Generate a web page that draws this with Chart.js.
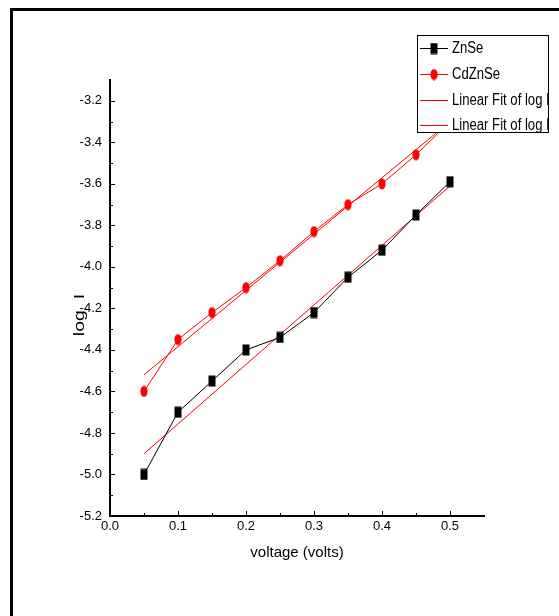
<!DOCTYPE html>
<html>
<head>
<meta charset="utf-8">
<script src="https://cdn.jsdelivr.net/npm/chart.js@4"></script>
<style>
    html, body { margin: 0; padding: 0; background: #fff; overflow: hidden; }
    #wrap { position: relative; width: 559px; height: 616px; }
    #wrap canvas { position: absolute; left: 0; top: 0; }
    #frame { position: absolute; left: 10px; top: 8px; width: 700px; height: 800px; border: 3px solid #000; box-sizing: border-box; }
</style>
</head>
<body>
<div id="wrap">
    <canvas id="ivChart" width="559" height="616"></canvas>
    <div id="frame"></div>
</div>
<script>
// data
const voltage = [0.05, 0.10, 0.15, 0.20, 0.25, 0.30, 0.35, 0.40, 0.45, 0.50];
const znse    = [-5.00, -4.70, -4.55, -4.40, -4.34, -4.22, -4.05, -3.92, -3.75, -3.59];
const cdznse  = [-4.60, -4.35, -4.22, -4.10, -3.97, -3.83, -3.70, -3.60, -3.46, -3.30];
const fitX      = [0.05, 0.50];
const znseFit   = [-4.90, -3.61];
const cdznseFit = [-4.52, -3.30];
const xTicks = [0.0, 0.1, 0.2, 0.3, 0.4, 0.5];
const yTicks = [-5.2, -5.0, -4.8, -4.6, -4.4, -4.2, -4.0, -3.8, -3.6, -3.4, -3.2];

const FONT = '"Liberation Sans", Arial, sans-serif';

const pts = (xs, ys) => xs.map((x, i) => ({ x: x, y: ys[i] }));

// tall markers like the original export
const makeMarker = (color, shape) => {
    const c = document.createElement('canvas');
    c.width = 8; c.height = 12;
    const g = c.getContext('2d');
    g.fillStyle = color;
    if (shape === 'rect') g.fillRect(0.5, 0.5, 7, 11);
    else { g.beginPath(); g.ellipse(4, 6, 3.6, 5.6, 0, 0, Math.PI * 2); g.fill(); }
    return c;
};
const squareMark = makeMarker('#000', 'rect');
const roundMark = makeMarker('#ff0000', 'ellipse');

const innerTicks = {
    id: 'innerTicks',
    afterDatasetsDraw(chart) {
        const { ctx, scales: { x, y } } = chart;
        const left = x.left, bottom = y.bottom;
        ctx.save();
        ctx.strokeStyle = '#000';
        ctx.lineWidth = 1;
        ctx.beginPath();
        yTicks.forEach((v, i) => {
            const py = Math.round(y.getPixelForValue(v)) + 0.5;
            ctx.moveTo(left, py); ctx.lineTo(left + 5, py);
            if (i < yTicks.length - 1) {
                const my = Math.round(y.getPixelForValue((v + yTicks[i + 1]) / 2)) + 0.5;
                ctx.moveTo(left, my); ctx.lineTo(left + 3, my);
            }
        });
        xTicks.forEach((v, i) => {
            const px = Math.round(x.getPixelForValue(v)) + 0.5;
            ctx.moveTo(px, bottom); ctx.lineTo(px, bottom - 5);
            if (i < xTicks.length - 1) {
                const mx = Math.round(x.getPixelForValue((v + xTicks[i + 1]) / 2)) + 0.5;
                ctx.moveTo(mx, bottom); ctx.lineTo(mx, bottom - 3);
            }
        });
        ctx.stroke();
        ctx.restore();
    }
};

// y title sits a bit below the middle, and the legend box overlaps the data
const overlays = {
    id: 'overlays',
    afterDraw(chart) {
        const ctx = chart.ctx;
        ctx.save();
        ctx.translate(80, 315);
        ctx.rotate(-Math.PI / 2);
        ctx.scale(1.3, 1);
        ctx.fillStyle = '#000';
        ctx.font = '15px ' + FONT;
        ctx.textAlign = 'center';
        ctx.textBaseline = 'middle';
        ctx.fillText('log  I', 0, 0);
        ctx.restore();

        const bx = 417, by = 35, bw = 131, bh = 97;
        ctx.save();
        ctx.fillStyle = '#fff';
        ctx.fillRect(bx, by, bw, bh);
        ctx.strokeStyle = '#000';
        ctx.lineWidth = 1;
        ctx.strokeRect(bx + 0.5, by + 0.5, bw, bh);
        ctx.font = '16px ' + FONT;
        ctx.textBaseline = 'middle';
        chart.data.datasets.forEach((ds, i) => {
            const cy = Math.round(48 + i * 25.8) + 0.5;
            ctx.strokeStyle = ds.borderColor;
            ctx.beginPath();
            ctx.moveTo(420, cy); ctx.lineTo(448, cy);
            ctx.stroke();
            if (ds.pointStyle instanceof HTMLCanvasElement) {
                ctx.drawImage(ds.pointStyle, 434 - 4, cy - 6);
            }
            ctx.save();
            ctx.translate(452, cy);
            ctx.scale(0.82, 1);
            ctx.fillStyle = '#000';
            ctx.fillText(ds.label, 0, 0);
            ctx.restore();
        });
        ctx.restore();
    }
};

new Chart(document.getElementById('ivChart'), {
    type: 'line',
    data: {
        datasets: [{
            label: 'ZnSe',
            data: pts(voltage, znse),
            borderColor: '#000',
            borderWidth: 1,
            pointStyle: squareMark,
            tension: 0
        }, {
            label: 'CdZnSe',
            data: pts(voltage, cdznse),
            borderColor: '#ff0000',
            borderWidth: 1,
            pointStyle: roundMark,
            tension: 0
        }, {
            label: 'Linear Fit of log I',
            data: pts(fitX, znseFit),
            borderColor: '#ff0000',
            borderWidth: 1,
            pointRadius: 0
        }, {
            label: 'Linear Fit of log I',
            data: pts(fitX, cdznseFit),
            borderColor: '#ff0000',
            borderWidth: 1,
            pointRadius: 0
        }]
    },
    options: {
        responsive: false,
        animation: false,
        devicePixelRatio: 1,
        layout: { padding: { top: 80, right: 75, left: 0, bottom: 0 } },
        plugins: { legend: { display: false }, tooltip: { enabled: false } },
        scales: {
            x: {
                type: 'linear', min: 0, max: 0.55,
                grid: { display: false },
                border: { color: '#000', width: 2 },
                afterBuildTicks: s => { s.ticks = xTicks.map(v => ({ value: v })); },
                afterFit: s => { s.height = 100; },
                ticks: { color: '#000', font: { family: FONT, size: 13 }, padding: -5, autoSkip: false, maxRotation: 0, callback: v => v.toFixed(1) },
                title: { display: true, text: 'voltage (volts)', color: '#000', font: { family: FONT, size: 15 }, padding: { top: 0, bottom: 54 } }
            },
            y: {
                type: 'linear', min: -5.2, max: -3.1,
                grid: { display: false },
                border: { color: '#000', width: 2 },
                afterBuildTicks: s => { s.ticks = yTicks.map(v => ({ value: v })); },
                afterFit: s => { s.width = 110; },
                ticks: { color: '#000', font: { family: FONT, size: 13 }, padding: 0, autoSkip: false, callback: v => v.toFixed(1) }
            }
        }
    },
    plugins: [innerTicks, overlays]
});
</script>
</body>
</html>
